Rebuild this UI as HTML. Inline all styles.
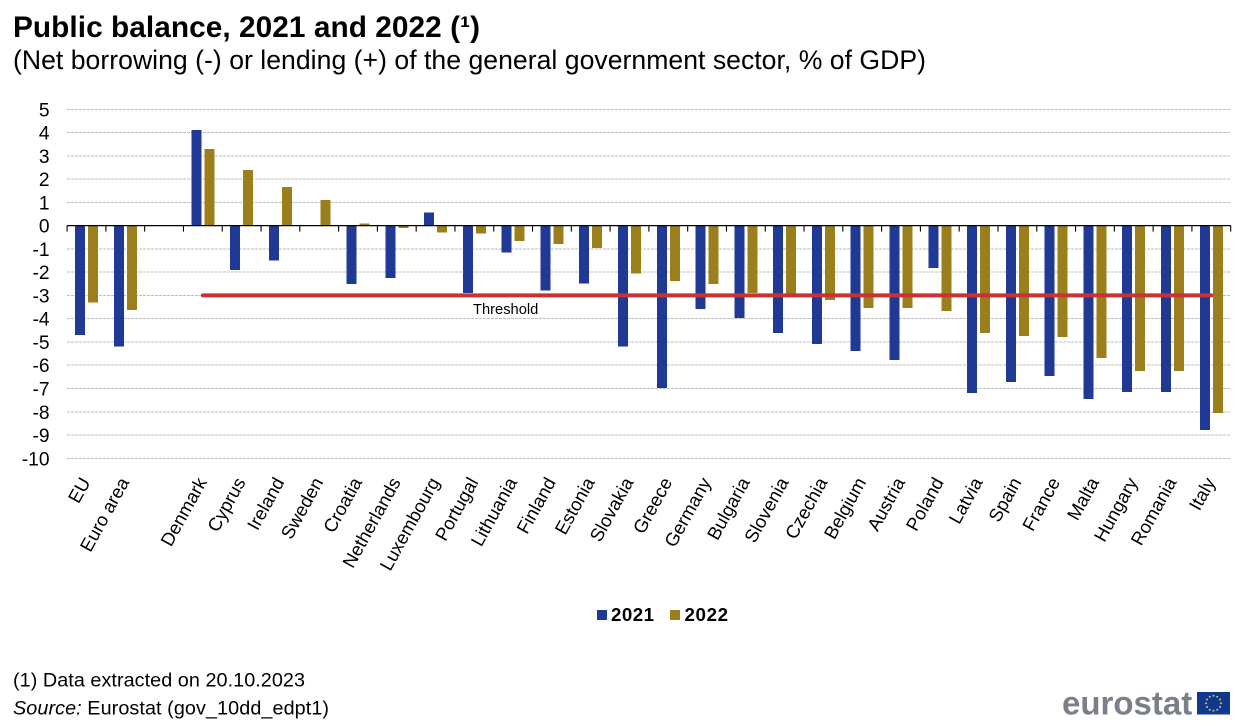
<!DOCTYPE html>
<html lang="en">
<head>
<meta charset="utf-8">
<title>Public balance, 2021 and 2022</title>
<style>
html,body{margin:0;padding:0;background:#fff;}
svg{display:block;font-family:"Liberation Sans",Arial,sans-serif;fill:#000;}
</style>
</head>
<body>
<svg id="chart" xmlns="http://www.w3.org/2000/svg" width="1250" height="726" viewBox="0 0 1250 726">
  <text x="13" y="37" font-size="29.8" font-weight="bold" textLength="467" lengthAdjust="spacing">Public balance, 2021 and 2022 (¹)</text>
  <text x="13" y="69" font-size="26.6" textLength="913" lengthAdjust="spacing">(Net borrowing (-) or lending (+) of the general government sector, % of GDP)</text>
  <g id="grid"></g>
  <g id="ylabels"></g>
  <g id="bars"></g>
  <g id="axis"></g>
  <g id="xlabels"></g>
  <g id="threshold"></g>
  <g>
    <rect x="597" y="610" width="10" height="10" fill="#1f3994"/>
    <text x="611" y="621" font-size="18.7" font-weight="bold" textLength="43" lengthAdjust="spacing">2021</text>
    <rect x="670" y="610" width="10" height="10" fill="#9b7f1c"/>
    <text x="684.5" y="621" font-size="18.7" font-weight="bold" textLength="43.5" lengthAdjust="spacing">2022</text>
  </g>
  <text x="13" y="686.5" font-size="19.8" textLength="292" lengthAdjust="spacing">(1) Data extracted on 20.10.2023</text>
  <text x="13" y="714.5" font-size="19.8" textLength="316" lengthAdjust="spacing"><tspan font-style="italic">Source:</tspan> Eurostat (gov_10dd_edpt1)</text>
  <g>
    <text x="1062" y="714.5" font-size="33" font-weight="bold" fill="#7b7f88">eurostat</text>
    <rect x="1197" y="692" width="33" height="22.5" fill="#10388f"/>
    <g id="stars"></g>
  </g>
</svg>
<script>
const categories = ["EU","Euro area","","Denmark","Cyprus","Ireland","Sweden","Croatia","Netherlands","Luxembourg","Portugal","Lithuania","Finland","Estonia","Slovakia","Greece","Germany","Bulgaria","Slovenia","Czechia","Belgium","Austria","Poland","Latvia","Spain","France","Malta","Hungary","Romania","Italy"];
const values2021 = [-4.7,-5.2,null,4.1,-1.9,-1.5,0,-2.5,-2.26,0.57,-2.9,-1.15,-2.78,-2.48,-5.2,-6.98,-3.59,-3.98,-4.62,-5.09,-5.39,-5.78,-1.83,-7.2,-6.73,-6.47,-7.45,-7.15,-7.15,-8.79];
const values2022 = [-3.3,-3.63,null,3.3,2.4,1.65,1.1,0.1,-0.1,-0.29,-0.33,-0.67,-0.8,-0.97,-2.05,-2.39,-2.52,-2.9,-3.0,-3.2,-3.55,-3.55,-3.68,-4.62,-4.75,-4.79,-5.7,-6.25,-6.25,-8.06];
const thresholdValues = [null,null,null,-3,-3,-3,-3,-3,-3,-3,-3,-3,-3,-3,-3,-3,-3,-3,-3,-3,-3,-3,-3,-3,-3,-3,-3,-3,-3,-3];
const yTicks = [5,4,3,2,1,0,-1,-2,-3,-4,-5,-6,-7,-8,-9,-10];

const NS = "http://www.w3.org/2000/svg";
const plotLeft = 67.1, plotRight = 1230.7, zeroY = 225.6, unit = 23.27;
const band = (plotRight - plotLeft) / categories.length;
function yScale(v){ return zeroY - v * unit; }
function xCenter(i){ return plotLeft + (i + 0.5) * band; }
function make(tag, attrs, parent){
  const el = document.createElementNS(NS, tag);
  for (const k in attrs) el.setAttribute(k, attrs[k]);
  parent.appendChild(el);
  return el;
}
const grid = document.getElementById('grid');
const ylabels = document.getElementById('ylabels');
yTicks.forEach(function(t){
  if (t !== 0) {
    const g = make('line', {x1:plotLeft, x2:plotRight, y1:yScale(t), y2:yScale(t), stroke:'#bdbdbd', 'stroke-width':1, 'stroke-dasharray':'3 1', 'shape-rendering':'crispEdges'}, grid);
    
    
  }
  const l = make('text', {x:49.5, y:yScale(t)+7, 'text-anchor':'end', 'font-size':19.2}, ylabels);
  l.textContent = String(t);
  
  
});
const bars = document.getElementById('bars');
function drawBar(v, x, color, name){
  if (v === null || v === 0) return;
  const y1 = yScale(Math.max(v, 0)), y2 = yScale(Math.min(v, 0));
  const r = make('rect', {x:x, y:y1, width:10, height:y2-y1, fill:color, 'shape-rendering':'crispEdges'}, bars);
  
  
}
categories.forEach(function(c, i){
  const cx = xCenter(i);
  drawBar(values2021[i], cx - 11.5, '#1f3994', 'bar-2021');
  drawBar(values2022[i], cx + 1.5, '#9b7f1c', 'bar-2022');
});
const axis = document.getElementById('axis');
const axisLine = make('line', {x1:plotLeft, x2:plotRight, y1:zeroY, y2:zeroY, stroke:'#000', 'stroke-width':1.2}, axis);


for (let i = 0; i <= categories.length; i++) {
  const x = plotLeft + i * band;
  const t = make('line', {x1:x, x2:x, y1:zeroY, y2:zeroY+6, stroke:'#000', 'stroke-width':1.1}, axis);
  
  
}
const xlabels = document.getElementById('xlabels');
categories.forEach(function(c, i){
  if (!c) return;
  const x = xCenter(i) + 4.5, y = 482;
  const l = make('text', {x:x, y:y, 'text-anchor':'end', 'font-size':18.5, transform:'rotate(-61 '+x+' '+y+')'}, xlabels);
  l.textContent = c;
  
  
});
const thresholdGroup = document.getElementById('threshold');
const pts = [];
thresholdValues.forEach(function(v, i){
  if (v !== null) pts.push(xCenter(i) + ',' + yScale(v));
});
const thresholdLine = make('polyline', {points:pts.join(' '), fill:'none', stroke:'#c83232', 'stroke-width':4, 'stroke-linecap':'round'}, thresholdGroup);


const thresholdLabel = make('text', {x:473, y:314, 'font-size':14.7}, thresholdGroup);
thresholdLabel.textContent = 'Threshold';


const stars = document.getElementById('stars');
for (let k = 0; k < 12; k++) {
  const a = k * Math.PI / 6;
  const s = make('circle', {cx:1213.5 + 7.5*Math.cos(a), cy:703.3 + 7.5*Math.sin(a), r:1, fill:'#e6c52e'}, stars);
  
  
}
</script>
</body>
</html>
